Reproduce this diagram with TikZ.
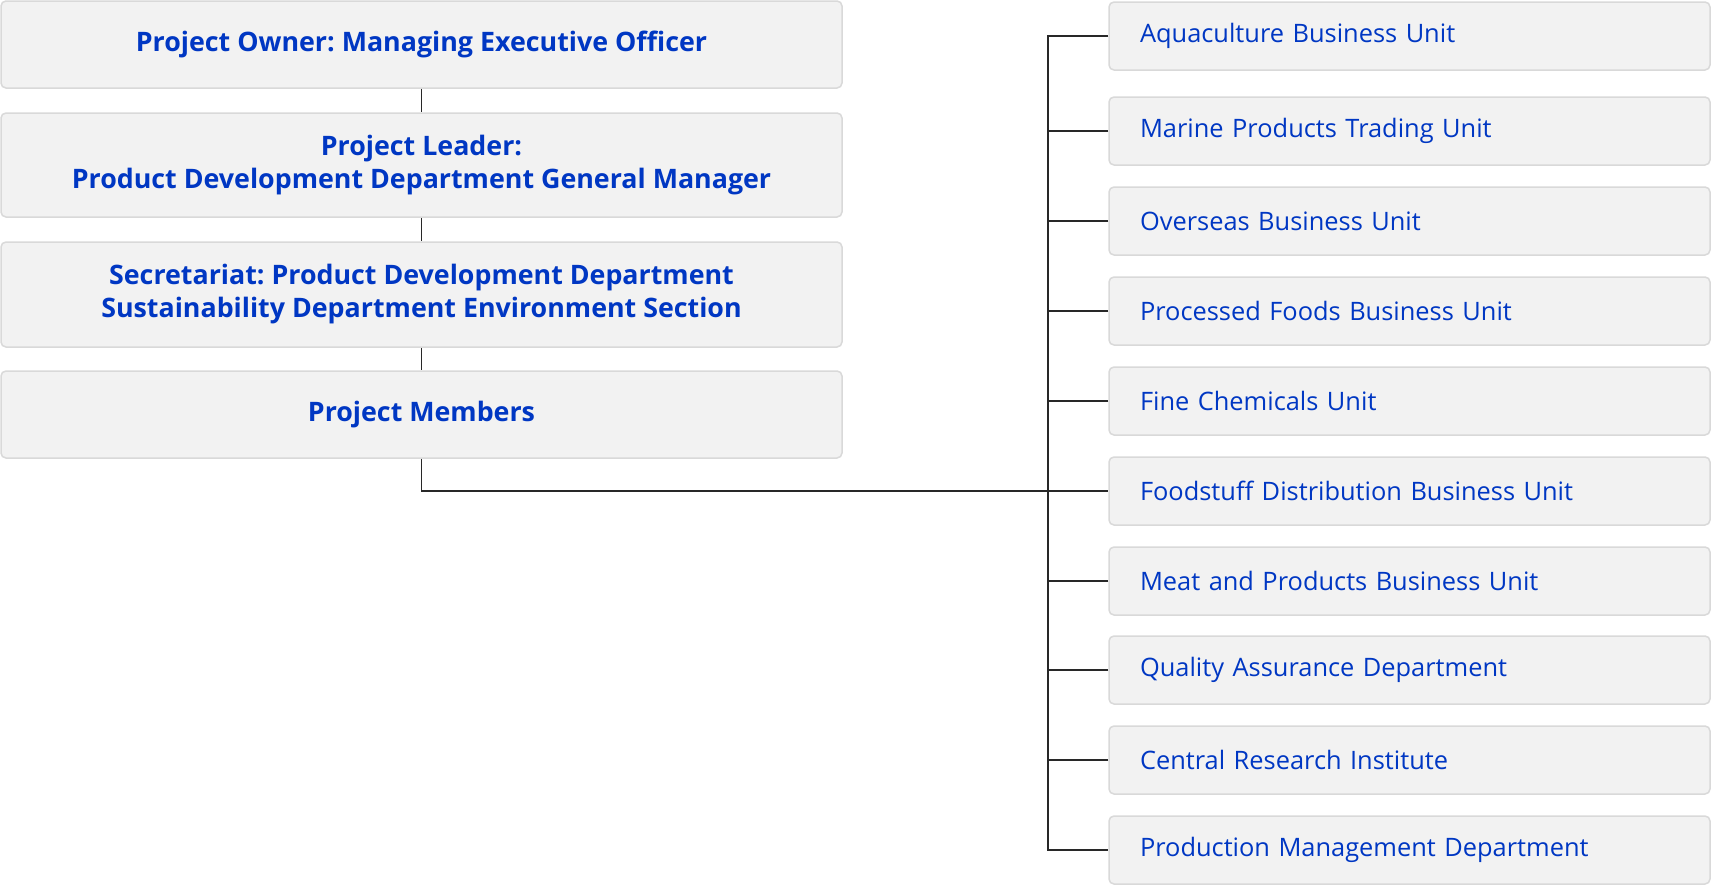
\documentclass[tikz,border=0pt]{standalone}
\usepackage{fontspec}
\setmainfont{Open Sans}
\usepackage{tikz}
\frenchspacing
\definecolor{txtblue}{RGB}{0,55,195}
\definecolor{boxfill}{RGB}{242,242,242}
\definecolor{boxline}{RGB}{217,217,217}
\definecolor{linkcol}{RGB}{40,40,40}

\begin{document}
\begin{tikzpicture}[x=1pt,y=1pt]
	\tikzstyle{lbox}=[rectangle,rounded corners=5pt,draw=boxline,line width=1.5pt,fill=boxfill,minimum width=841pt,inner sep=0pt,align=center,text=txtblue,font=\fontsize{26.8}{33}\selectfont\bfseries]
	\tikzstyle{rbox}=[rectangle,rounded corners=5pt,draw=boxline,line width=1.5pt,fill=boxfill,minimum height=68pt,text width=539pt,inner xsep=31pt,inner ysep=0pt,align=left,text=txtblue,font=\fontsize{25.4}{30}\selectfont]
	\tikzstyle{link}=[draw=linkcol,line width=1.5pt]
	\useasboundingbox (0,0) rectangle (1712,-886);
	\node[lbox,minimum height=87pt] (owner) at (421.5,-44.5) {Project Owner: Managing Executive Officer};
	\node[lbox,minimum height=104pt] (leader) at (421.5,-165) {Project Leader:\\Product Development Department General Manager};
	\node[lbox,minimum height=105pt] (sec) at (421.5,-294.5) {Secretariat: Product Development Department\\Sustainability Department Environment Section};
	\node[lbox,minimum height=87pt] (members) at (421.5,-414.5) {Project Members};
	\node[rbox] (u1) at (1409.5,-36) {Aquaculture Business Unit};
	\node[rbox] (u2) at (1409.5,-131) {Marine Products Trading Unit};
	\node[rbox] (u3) at (1409.5,-221) {Overseas Business Unit};
	\node[rbox] (u4) at (1409.5,-311) {Processed Foods Business Unit};
	\node[rbox] (u5) at (1409.5,-401) {Fine Chemicals Unit};
	\node[rbox] (u6) at (1409.5,-491) {Foodstuff Distribution Business Unit};
	\node[rbox] (u7) at (1409.5,-581) {Meat and Products Business Unit};
	\node[rbox] (u8) at (1409.5,-670) {Quality Assurance Department};
	\node[rbox] (u9) at (1409.5,-760) {Central Research Institute};
	\node[rbox] (u10) at (1409.5,-850) {Production Management Department};
	\coordinate (bus) at (1048,-850);
	\draw[link] (owner) -- (leader);
	\draw[link] (leader) -- (sec);
	\draw[link] (sec) -- (members);
	\draw[link] (members) |- (u6);
	\draw[link] (u1.west) -| (bus) -- (u10.west);
	\draw[link] (u2.west) -- (u2.west -| bus);
	\draw[link] (u3.west) -- (u3.west -| bus);
	\draw[link] (u4.west) -- (u4.west -| bus);
	\draw[link] (u5.west) -- (u5.west -| bus);
	\draw[link] (u7.west) -- (u7.west -| bus);
	\draw[link] (u8.west) -- (u8.west -| bus);
	\draw[link] (u9.west) -- (u9.west -| bus);
\end{tikzpicture}
\end{document}
